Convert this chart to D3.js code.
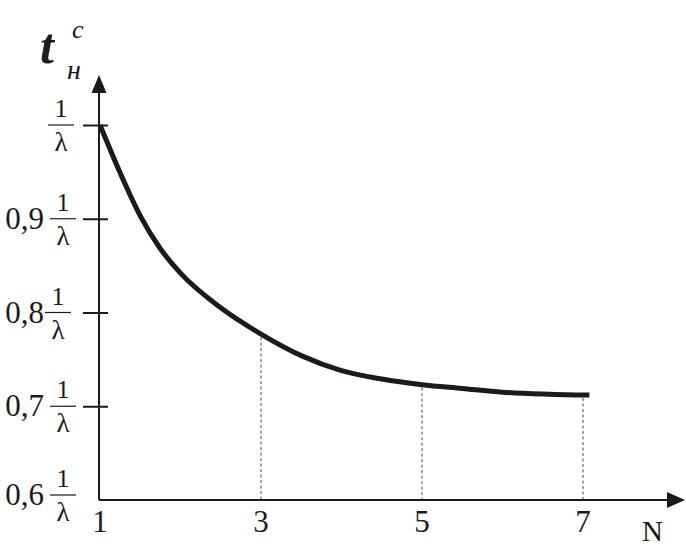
<!DOCTYPE html>
<html><head><meta charset="utf-8">
<script src="https://cdn.jsdelivr.net/npm/d3@7/dist/d3.min.js"></script>
<style>html,body{margin:0;padding:0;background:#fff;}svg{display:block;} text{font-family:"Liberation Serif","DejaVu Serif",serif;}</style>
</head><body>
<svg id="c" width="686" height="546"></svg>
<script>
// Data
const nValues = [1, 1.25, 1.5, 1.75, 2, 2.5, 3, 3.5, 4, 4.5, 5, 5.5, 6, 6.5, 7, 7.08];
const tValues = [1.0, 0.949, 0.903, 0.868, 0.842, 0.805, 0.777, 0.754, 0.738, 0.729, 0.723, 0.719, 0.715, 0.713, 0.712, 0.712];
const xTicks = [1, 3, 5, 7];
const xTickLabels = ["1", "3", "5", "7"];
const yTicks = [1, 0.9, 0.8, 0.7, 0.6];
const yTickPrefix = ["", "0,9", "0,8", "0,7", "0,6"];
const dropLines = [3, 5, 7];

const svg = d3.select("#c");
const x = d3.scaleLinear().domain([1, 7]).range([100, 583]);
const y = d3.scaleLinear().domain([0.6, 1]).range([500, 125]);
const ink = "#1c1a1a";
const pts = nValues.map((n, i) => ({n, t: tValues[i]}));
const curveAt = n => tValues[nValues.indexOf(n)];

// dashed drop lines
svg.selectAll("line.drop").data(dropLines).join("line")
  .attr("class", "drop")
  .attr("x1", d => x(d)).attr("x2", d => x(d))
  .attr("y1", d => y(curveAt(d)) + 3).attr("y2", y(0.6))
  .attr("stroke", "#333").attr("stroke-width", 0.9).attr("stroke-dasharray", "3,2.5");

// axes lines
const x0 = x(1) - 1, yb = y(0.6);
svg.append("line").attr("x1", x0).attr("x2", x0).attr("y1", yb).attr("y2", 88)
  .attr("stroke", ink).attr("stroke-width", 2);
svg.append("path").attr("d", `M${x0},75 L${x0 - 7.5},93 L${x0 + 7.5},93 Z`).attr("fill", ink);
svg.append("line").attr("x1", x0).attr("x2", 672).attr("y1", yb).attr("y2", yb)
  .attr("stroke", ink).attr("stroke-width", 2);
svg.append("path").attr("d", `M685,${yb} L667,${yb - 8} L667,${yb + 8} Z`).attr("fill", ink);

// y ticks (crossing the axis)
const yAxis = d3.axisLeft(y).tickValues(yTicks.slice(0, 4)).tickSize(16).tickFormat("");
const gy = svg.append("g").attr("transform", `translate(${x0},0)`).call(yAxis);
gy.select(".domain").remove();
gy.selectAll(".tick line").attr("x1", 9).attr("stroke", ink).attr("stroke-width", 2);

// y tick labels: prefix and fraction 1/λ
yTicks.forEach((v, i) => {
  const yy = v === 0.6 ? y(v) - 5 : y(v);
  const cx = i === 0 ? 61 : (i === 2 ? 58 : 63);
  if (yTickPrefix[i]) {
    svg.append("text").attr("x", 44).attr("y", yy + 10).attr("text-anchor", "end")
      .attr("font-size", 31).attr("fill", ink).text(yTickPrefix[i]);
  }
  svg.append("line").attr("x1", cx - 13).attr("x2", cx + 13).attr("y1", yy).attr("y2", yy)
    .attr("stroke", ink).attr("stroke-width", 1.2);
  svg.append("text").attr("x", cx).attr("y", yy - 8).attr("text-anchor", "middle")
    .attr("font-size", 26).attr("fill", ink).text("1");
  svg.append("text").attr("x", cx).attr("y", yy + 26).attr("text-anchor", "middle")
    .attr("font-size", 27).attr("fill", ink).text("λ");
});

// x tick labels
svg.selectAll("text.xt").data(xTicks).join("text")
  .attr("class", "xt")
  .attr("x", d => x(d)).attr("y", 532).attr("text-anchor", "middle")
  .attr("font-size", 31).attr("fill", ink)
  .text((d, i) => xTickLabels[i]);

// axis titles
svg.append("text").attr("x", 642).attr("y", 541)
  .attr("font-size", 29).attr("fill", ink).text("N");
svg.append("text").attr("x", 40).attr("y", 63)
  .attr("font-size", 50).attr("font-weight", "bold").attr("font-style", "italic").attr("fill", ink).text("t");
svg.append("text").attr("x", 72).attr("y", 38)
  .attr("font-size", 26).attr("font-style", "italic").attr("fill", ink).text("c");
svg.append("text").attr("x", 67).attr("y", 79)
  .attr("font-size", 28).attr("font-style", "italic").attr("fill", ink).text("н");

// curve
const line = d3.line().x(d => x(d.n)).y(d => y(d.t)).curve(d3.curveMonotoneX);
svg.append("path").datum(pts).attr("d", line).attr("fill", "none")
  .attr("stroke", ink).attr("stroke-width", 5);
</script>
</body></html>
